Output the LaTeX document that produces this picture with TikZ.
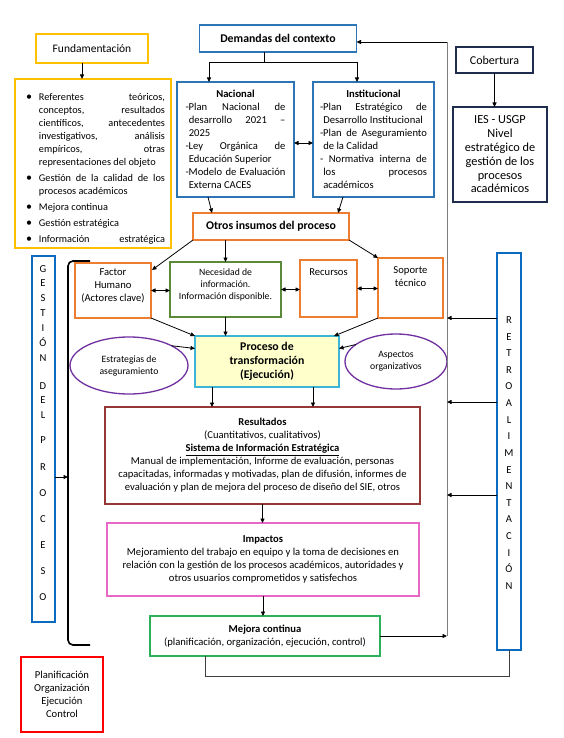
\documentclass[tikz,border=0pt]{standalone}
\usepackage{fontspec}
\setmainfont{Carlito}
\usetikzlibrary{arrows.meta,shapes.geometric}
\definecolor{cBlue}{HTML}{2E75B6}
\definecolor{cBlueK}{HTML}{0B6BC0}
\definecolor{cGold}{HTML}{FFC000}
\definecolor{cOrange}{HTML}{ED7D31}
\definecolor{cGreenD}{HTML}{5B8A3A}
\definecolor{cCyan}{HTML}{3DB5D6}
\definecolor{cYellowF}{HTML}{FFFFCC}
\definecolor{cPurple}{HTML}{7030A0}
\definecolor{cMaroon}{HTML}{953735}
\definecolor{cPink}{HTML}{E868C8}
\definecolor{cGreen}{HTML}{2EB05A}
\definecolor{cRed}{HTML}{FF0000}
\definecolor{cNavy}{HTML}{1F2D4F}
\definecolor{cGray}{HTML}{7F7F7F}
\newcommand\fsN{\fontsize{10.6}{13}\selectfont}
\newcommand\fsB{\fontsize{11.8}{14.2}\selectfont}
\newcommand\fsS{\fontsize{9.7}{12}\selectfont}
\newcommand\bitem{\par\hangindent=13pt\hangafter=1\noindent\hbox to 13pt{\raisebox{0.2pt}{\fontsize{12}{12}\selectfont\textbullet}\hfil}}
\newcommand\ditem{\par\hangindent=3.3pt\hangafter=1\noindent-}
\begin{document}
\begin{tikzpicture}[x=1pt,y=-1pt,
  every node/.style={font=\fsN, inner sep=0pt, outer sep=0pt},
  bx/.style={draw, rectangle, line width=1.3pt},
  arr/.style={-{Triangle[length=4.5pt,width=4pt]}, line width=0.8pt, draw=black},
  darr/.style={{Triangle[length=4.5pt,width=4pt]}-{Triangle[length=4.5pt,width=4pt]}, line width=0.8pt, draw=black},
  plain/.style={line width=0.8pt, draw=black},
  letter/.style={anchor=base, font=\fsN}
]
\useasboundingbox (0,0) rectangle (563,738);
\fill[white] (0,0) rectangle (563,738);

% Fundamentacion
\node[bx, draw=cGold, minimum width=112, minimum height=29, font=\fontsize{11.5}{14}\selectfont] (fund) at (92,48.5) {Fundamentación};
\node[bx, draw=cGold, minimum width=156, minimum height=169] (flist) at (93,163.5) {};
\node[anchor=north west, text width=139, align=justify, font=\fontsize{10.3}{13}\selectfont] (fltext) at (26,85) {\parskip=3pt\hyphenpenalty=10000\emergencystretch=20pt
\bitem Referentes teóricos,\linebreak conceptos, resultados\linebreak científicos, antecedentes\linebreak investigativos, análisis\linebreak empíricos, otras\linebreak representaciones del objeto
\bitem Gestión de la calidad de los\linebreak procesos académicos
\bitem Mejora continua
\bitem Gestión estratégica
\bitem Información\hskip 0pt plus 1filll estratégica\par};

% Demandas
\node[bx, draw=cBlue, minimum width=157, minimum height=27, font=\fsB\bfseries] (dem) at (278,38.5) {Demandas del contexto};
\node[bx, draw=cBlue, minimum width=117, minimum height=115, text width=100, align=justify] (nac) at (235.5,139.5)
 {{\centering\bfseries Nacional\par}\ditem Plan Nacional de\linebreak desarrollo 2021 –\linebreak 2025\ditem Ley Orgánica de\linebreak Educación Superior\ditem Modelo de Evaluación\linebreak Externa CACES\par};
\node[bx, draw=cBlue, minimum width=121, minimum height=115, text width=107, align=justify] (ins) at (373.5,139.5)
 {{\centering\bfseries Institucional\par}\ditem Plan Estratégico de\linebreak Desarrollo Institucional\ditem Plan de Aseguramiento\linebreak de la Calidad\ditem{} Normativa interna de\linebreak los procesos\linebreak académicos\par};
\node[bx, draw=cOrange, minimum width=156, minimum height=27, font=\fsB\bfseries] (otr) at (271,226.5) {Otros insumos del proceso};

% Cobertura
\node[bx, draw=cNavy, minimum width=77, minimum height=26, font=\fontsize{12}{14}\selectfont] (cob) at (494.5,60) {Cobertura};
\node[bx, draw=cNavy, minimum width=94, minimum height=95, align=center, font=\fontsize{12.3}{13.8}\selectfont] (ies) at (500,154.5)
 {IES - USGP\\Nivel\\estratégico de\\gestión de los\\procesos\\académicos};

% side boxes
\node[bx, draw=cBlueK, line width=2.6pt, minimum width=23, minimum height=366] (gest) at (43.5,439) {};
\node[bx, draw=cBlueK, line width=2.6pt, minimum width=24, minimum height=397] (retro) at (509,451.5) {};
\foreach \l/\yy [count=\i] in {G/269,E/283,S/298,T/313,I/328,Ó/343,N/358,D/386,E/400,L/415,P/440,R/467,O/493,C/519,E/545,S/571,O/597}
  \node[letter] (gl\i) at (43,\yy+3.4) {\l};
\foreach \l [count=\i] in {R,E,T,R,O,A,L,I,M,E,N,T,A,C,I,Ó,N}
  \node[letter] (rl\i) at (509,320+16.625*\i-16.625+3.4) {\l};
\draw[line width=1.6pt, rounded corners=5pt] (90,261) -- (68,261) -- (68,645) -- (90,645);
\coordinate (brk) at (68,477);
\draw[arr] (gest.east |- brk) -- (brk);
\node[bx, draw=cRed, line width=2.4pt, minimum width=82, minimum height=75, align=center] (pl) at (62,694.5)
 {Planificación\\Organización\\Ejecución\\Control};

% inputs row
\node[bx, draw=cOrange, minimum width=76, minimum height=55] (fh) at (113,290.5) {};
\node[align=center] (fht) at (113,286) {Factor\\Humano\\(Actores clave)};
\node[bx, draw=cGreenD, minimum width=111, minimum height=55] (nec) at (225.5,289.5) {};
\node[align=center, font=\fsS] (nect) at (225.5,285) {Necesidad de\\información.\\Información disponible.};
\node[bx, draw=cOrange, minimum width=57, minimum height=57] (rec) at (328.5,288.5) {};
\node (rect) at (328.5,272) {Recursos};
\node[bx, draw=cOrange, minimum width=65, minimum height=60] (sop) at (410.5,288) {};
\node[align=center] (sopt) at (410.5,277) {Soporte\\técnico};

% process
\node[bx, draw=cCyan, fill=cYellowF, minimum width=144, minimum height=51, align=center, font=\fsB\bfseries] (proc) at (267,361.5)
 {Proceso de\\transformación\\(Ejecución)};
\node[ellipse, draw=cPurple, line width=1.3pt, minimum width=118, minimum height=57, align=center, font=\fsS] (est) at (129,365.5)
 {Estrategias de\\aseguramiento};
\node[ellipse, draw=cPurple, line width=1.3pt, minimum width=102, minimum height=55, align=center, font=\fsS] (asp) at (396,361.5)
 {Aspectos\\organizativos};

% results
\node[bx, draw=cMaroon, minimum width=315, minimum height=97, align=center] (res) at (262.5,455.5)
 {\textbf{Resultados}\\(Cuantitativos, cualitativos)\\\underline{\textbf{Sistema de Información Estratégica}}\\Manual de implementación, Informe de evaluación, personas\\capacitadas, informadas y motivadas, plan de difusión, informes de\\evaluación y plan de mejora del proceso de diseño del SIE, otros};
\node[bx, draw=cPink, minimum width=312, minimum height=73, align=center] (imp) at (263,559.5)
 {\textbf{Impactos}\\Mejoramiento del trabajo en equipo y la toma de decisiones en\\relación con la gestión de los procesos académicos, autoridades y\\otros usuarios comprometidos y satisfechos};
\node[bx, draw=cGreen, minimum width=230, minimum height=40, align=center] (mej) at (265,636)
 {\textbf{Mejora continua}\\(planificación, organización, ejecución, control)};

% connectors
\draw[arr] ([xshift=-10pt]fund.south) -- ([xshift=-10pt]fund.south |- flist.north);
\coordinate (djl) at (209,62);
\coordinate (djr) at (357,62);
\draw[plain] ([xshift=-14pt]dem.south) -- ([xshift=-14pt]dem.south |- djl);
\draw[plain] (djl) -- (djr);
\draw[arr] (djl) -- (djl |- nac.north);
\draw[arr] (djr) -- (djr |- ins.north);
\draw[darr] ([yshift=-3.5pt]nac.east) -- ([yshift=-3.5pt]ins.west);
\draw[arr] ([xshift=-27.5pt]nac.south) -- ([xshift=-59pt]otr.north);
\draw[arr] ([xshift=-30.5pt]ins.south) -- ([xshift=67pt]otr.north);
\draw[arr] (cob.south) -- (cob.south |- ies.north);

\draw[arr] (otr.south west) -- ([shift={(1pt,-7pt)}]fh.north east);
\draw[arr] (otr.south -| nec.north) -- (nec.north);
\draw[arr] (otr.south east) -- (sop.north west);
\draw[darr] (fh.east) -- (fh.east -| nec.west);
\draw[darr] (nec.east) -- (nec.east -| rec.west);
\draw[darr] (rec.east) -- (rec.east -| sop.west);
\draw[arr] (fh.south east) -- (proc.north west);
\draw[arr] (nec.south) -- (nec.south |- proc.north);
\draw[arr] (sop.south west) -- ([xshift=-5pt]proc.north east);
\draw[arr] (est.25) -- ([yshift=13pt]proc.west);
\draw[arr] (asp.157) -- ([yshift=13pt]proc.east);
\draw[arr] ([xshift=-55pt]proc.south) -- ([xshift=-55pt]proc.south |- res.north);
\draw[arr] ([xshift=46pt]proc.south) -- ([xshift=46pt]proc.south |- res.north);
\draw[arr] (res.south) -- (res.south |- imp.north);
\draw[arr] (imp.south) -- (imp.south |- mej.north);

\coordinate (gtop) at (447,42);
\draw[cGray, line width=1pt] (mej.east -| gtop) -- (gtop);
\draw[arr] (gtop) -- (gtop -| dem.east);
\draw[arr] (mej.east) -- (mej.east -| gtop);
\foreach \yy [count=\i] in {318,402,495} {
  \coordinate (rf\i) at (447,\yy);
  \draw[arr] (retro.west |- rf\i) -- (rf\i);
}
\draw[line width=0.9pt, draw=black!75] ([xshift=-60pt]mej.south) -- ++(0,20) -| (retro.south);
\end{tikzpicture}
\end{document}
